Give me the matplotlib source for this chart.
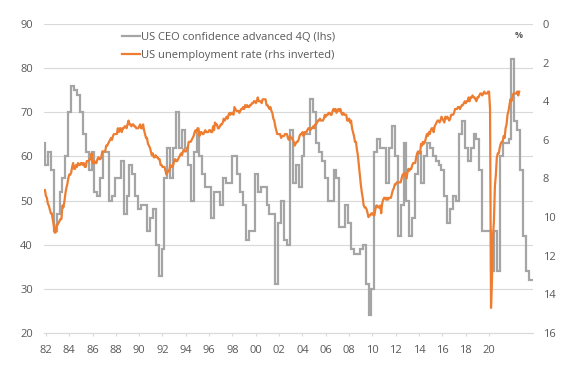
import numpy as np
import matplotlib
matplotlib.use('Agg')
import matplotlib.pyplot as plt
from matplotlib.lines import Line2D

# ---------------- data ----------------
# US CEO confidence, advanced 4 quarters (quarterly, starting 1981Q4)
ceo_start = 1981.75
ceo_conf = [63,
    58, 61, 57, 43,   # 1982
    47, 52, 55, 60,   # 1983
    70, 76, 75, 74,   # 1984
    70, 65, 61, 57,   # 1985
    61, 52, 51, 55,   # 1986
    61, 61, 50, 51,   # 1987
    55, 55, 59, 47,   # 1988
    51, 58, 56, 51,   # 1989
    48, 49, 49, 43,   # 1990
    46, 48, 40, 33,   # 1991
    39, 55, 62, 55,   # 1992
    62, 70, 62, 66,   # 1993
    62, 58, 50, 61,   # 1994
    65, 60, 56, 53,   # 1995
    53, 46, 52, 52,   # 1996
    49, 55, 54, 54,   # 1997
    60, 60, 56, 52,   # 1998
    49, 41, 43, 43,   # 1999
    56, 52, 53, 53,   # 2000
    49, 47, 47, 31,   # 2001
    45, 50, 41, 40,   # 2002
    66, 54, 58, 53,   # 2003
    60, 65, 65, 73,   # 2004
    70, 63, 61, 59,   # 2005
    55, 50, 50, 57,   # 2006
    55, 44, 44, 49,   # 2007
    45, 39, 38, 38,   # 2008
    39, 40, 31, 24,   # 2009
    30, 61, 64, 62,   # 2010
    62, 54, 62, 67,   # 2011
    60, 42, 49, 63,   # 2012
    50, 42, 46, 56,   # 2013
    61, 54, 60, 63,   # 2014
    62, 60, 59, 58,   # 2015
    57, 51, 45, 48,   # 2016
    51, 50, 65, 68,   # 2017
    62, 59, 62, 65,   # 2018
    64, 57, 43, 43,   # 2019
    43, 34, 43, 34,   # 2020
    60, 63, 63, 64,   # 2021
    82, 68, 66, 57,   # 2022
    42, 34, 32]       # 2023

# US unemployment rate, monthly from Jan 1982 (%)
unemp_start = 1982.0
unemp_rate = [
    8.6, 8.9, 9.0, 9.3, 9.4, 9.6, 9.8, 9.8, 10.1, 10.4, 10.8, 10.8,
    10.4, 10.4, 10.3, 10.2, 10.1, 10.1, 9.4, 9.5, 9.2, 8.8, 8.5, 8.3,
    8.0, 7.8, 7.8, 7.7, 7.4, 7.2, 7.5, 7.5, 7.3, 7.4, 7.2, 7.3,
    7.3, 7.2, 7.2, 7.3, 7.2, 7.4, 7.4, 7.1, 7.1, 7.1, 7.0, 7.0,
    6.7, 7.2, 7.2, 7.1, 7.2, 7.2, 7.0, 6.9, 7.0, 7.0, 6.9, 6.6,
    6.6, 6.6, 6.6, 6.3, 6.3, 6.2, 6.1, 6.0, 5.9, 6.0, 5.8, 5.7,
    5.7, 5.7, 5.7, 5.4, 5.6, 5.4, 5.4, 5.6, 5.4, 5.4, 5.3, 5.3,
    5.4, 5.2, 5.0, 5.2, 5.2, 5.3, 5.2, 5.2, 5.3, 5.3, 5.4, 5.4,
    5.4, 5.3, 5.2, 5.4, 5.4, 5.2, 5.5, 5.7, 5.9, 5.9, 6.2, 6.3,
    6.4, 6.6, 6.8, 6.7, 6.9, 6.9, 6.8, 6.9, 6.9, 7.0, 7.0, 7.3,
    7.3, 7.4, 7.4, 7.4, 7.6, 7.8, 7.7, 7.6, 7.6, 7.3, 7.4, 7.4,
    7.3, 7.1, 7.0, 7.1, 7.1, 7.0, 6.9, 6.8, 6.7, 6.8, 6.6, 6.5,
    6.6, 6.6, 6.5, 6.4, 6.1, 6.1, 6.1, 6.0, 5.9, 5.8, 5.6, 5.5,
    5.6, 5.4, 5.4, 5.8, 5.6, 5.6, 5.7, 5.7, 5.6, 5.5, 5.6, 5.6,
    5.6, 5.5, 5.5, 5.6, 5.6, 5.3, 5.5, 5.1, 5.2, 5.2, 5.4, 5.4,
    5.3, 5.2, 5.2, 5.1, 4.9, 5.0, 4.9, 4.8, 4.9, 4.7, 4.6, 4.7,
    4.6, 4.6, 4.7, 4.3, 4.4, 4.5, 4.5, 4.5, 4.6, 4.5, 4.4, 4.4,
    4.3, 4.4, 4.2, 4.3, 4.2, 4.3, 4.3, 4.2, 4.2, 4.1, 4.1, 4.0,
    4.0, 4.1, 4.0, 3.8, 4.0, 4.0, 4.0, 4.1, 3.9, 3.9, 3.9, 3.9,
    4.2, 4.2, 4.3, 4.4, 4.3, 4.5, 4.6, 4.9, 5.0, 5.3, 5.5, 5.7,
    5.7, 5.7, 5.7, 5.9, 5.8, 5.8, 5.8, 5.7, 5.7, 5.7, 5.9, 6.0,
    5.8, 5.9, 5.9, 6.0, 6.1, 6.3, 6.2, 6.1, 6.1, 6.0, 5.8, 5.7,
    5.7, 5.6, 5.8, 5.6, 5.6, 5.6, 5.5, 5.4, 5.4, 5.5, 5.4, 5.4,
    5.3, 5.4, 5.2, 5.2, 5.1, 5.0, 5.0, 4.9, 5.0, 5.0, 5.0, 4.9,
    4.7, 4.8, 4.7, 4.7, 4.6, 4.6, 4.7, 4.7, 4.5, 4.4, 4.5, 4.4,
    4.6, 4.5, 4.4, 4.5, 4.4, 4.6, 4.7, 4.6, 4.7, 4.7, 4.7, 5.0,
    5.0, 4.9, 5.1, 5.0, 5.4, 5.6, 5.8, 6.1, 6.1, 6.5, 6.8, 7.3,
    7.8, 8.3, 8.7, 9.0, 9.4, 9.5, 9.5, 9.6, 9.8, 10.0, 9.9, 9.9,
    9.8, 9.8, 9.9, 9.9, 9.6, 9.4, 9.4, 9.5, 9.5, 9.4, 9.8, 9.3,
    9.1, 9.0, 9.0, 9.1, 9.0, 9.1, 9.0, 9.0, 9.0, 8.8, 8.6, 8.5,
    8.3, 8.3, 8.2, 8.2, 8.2, 8.2, 8.2, 8.0, 7.8, 7.8, 7.7, 7.9,
    8.0, 7.7, 7.5, 7.6, 7.5, 7.5, 7.3, 7.2, 7.2, 7.2, 6.9, 6.7,
    6.6, 6.7, 6.7, 6.2, 6.3, 6.1, 6.2, 6.1, 5.9, 5.7, 5.8, 5.6,
    5.7, 5.5, 5.4, 5.4, 5.6, 5.3, 5.2, 5.1, 5.0, 5.0, 5.1, 5.0,
    4.8, 4.9, 5.0, 5.1, 4.8, 4.9, 4.8, 4.9, 5.0, 4.9, 4.7, 4.7,
    4.7, 4.6, 4.4, 4.4, 4.4, 4.3, 4.3, 4.4, 4.3, 4.2, 4.2, 4.1,
    4.0, 4.1, 4.0, 4.0, 3.8, 4.0, 3.8, 3.8, 3.7, 3.8, 3.8, 3.9,
    4.0, 3.8, 3.8, 3.7, 3.6, 3.6, 3.7, 3.6, 3.5, 3.6, 3.6, 3.6,
    3.5, 3.5, 4.4, 14.7, 13.2, 11.0, 10.2, 8.4, 7.8, 6.9, 6.7, 6.7,
    6.4, 6.2, 6.1, 6.1, 5.8, 5.9, 5.4, 5.2, 4.7, 4.5, 4.2, 3.9,
    4.0, 3.8, 3.6, 3.6, 3.6, 3.6, 3.5, 3.7, 3.5]

x_tick_years = list(range(1982, 2021, 2))
x_tick_labels = ['82', '84', '86', '88', '90', '92', '94', '96', '98', '00',
                 '02', '04', '06', '08', '10', '12', '14', '16', '18', '20']
left_ticks = [20, 30, 40, 50, 60, 70, 80, 90]
right_ticks = [0, 2, 4, 6, 8, 10, 12, 14, 16]

label_ceo = 'US CEO confidence advanced 4Q (lhs)'
label_unemp = 'US unemployment rate (rhs inverted)'

# ---------------- style ----------------
GRAY = '#a5a5a5'
ORANGE = '#ed7d31'
TXT = '#595959'
GRID = '#d9d9d9'
plt.rcParams['font.family'] = ['Open Sans', 'DejaVu Sans']

W, H = 582, 377
fig = plt.figure(figsize=(W / 100, H / 100), dpi=100)
ax = fig.add_axes([44 / W, 44 / H, 489 / W, 309 / H])

ceo_dates = ceo_start + np.arange(len(ceo_conf)) / 4.0
ceo_dates_ext = np.append(ceo_dates, ceo_dates[-1] + 0.25)
ceo_vals_ext = np.append(ceo_conf, ceo_conf[-1])
ax.step(ceo_dates_ext, ceo_vals_ext, where='post', color=GRAY, lw=1.6,
        solid_joinstyle='miter')

ax.set_xlim(1981.92, 2023.85)
ax.set_ylim(20, 90)
ax.set_yticks(left_ticks)
ax.yaxis.grid(True, color=GRID, lw=0.8)
ax.set_axisbelow(True)
for s in ['top', 'right', 'left']:
    ax.spines[s].set_visible(False)
ax.spines['bottom'].set_color(GRID)
ax.spines['bottom'].set_linewidth(0.8)
ax.tick_params(axis='y', length=0, pad=8, labelsize=8, labelcolor=TXT)
ax.set_xticks(np.array(x_tick_years) + 0.08)
ax.set_xticklabels(x_tick_labels)
ax.tick_params(axis='x', length=2.5, width=0.8, color=GRID, pad=6,
               labelsize=8, labelcolor=TXT)

ax2 = ax.twinx()
unemp_dates = unemp_start + np.arange(len(unemp_rate)) / 12.0
ax2.plot(unemp_dates, unemp_rate, color=ORANGE, lw=1.6)
ax2.set_ylim(16, 0)
ax2.set_yticks(right_ticks)
for s in ['top', 'right', 'left', 'bottom']:
    ax2.spines[s].set_visible(False)
ax2.tick_params(axis='y', length=0, pad=7, labelsize=8, labelcolor=TXT)

fig.text(519 / W, 1 - 35 / H, '%', fontsize=6.5, fontweight='bold',
         color=TXT, ha='center', va='center')

handles = [Line2D([], [], color=GRAY, lw=1.6), Line2D([], [], color=ORANGE, lw=1.6)]
leg = fig.legend(handles, [label_ceo, label_unemp], loc='upper left',
                 bbox_to_anchor=(122 / W, 1 - 32 / H), frameon=False,
                 handlelength=1.6, handletextpad=0.15, labelspacing=0.62,
                 fontsize=8, borderpad=0, borderaxespad=0)
for t in leg.get_texts():
    t.set_color(TXT)

fig.savefig('out.png', dpi=100)
